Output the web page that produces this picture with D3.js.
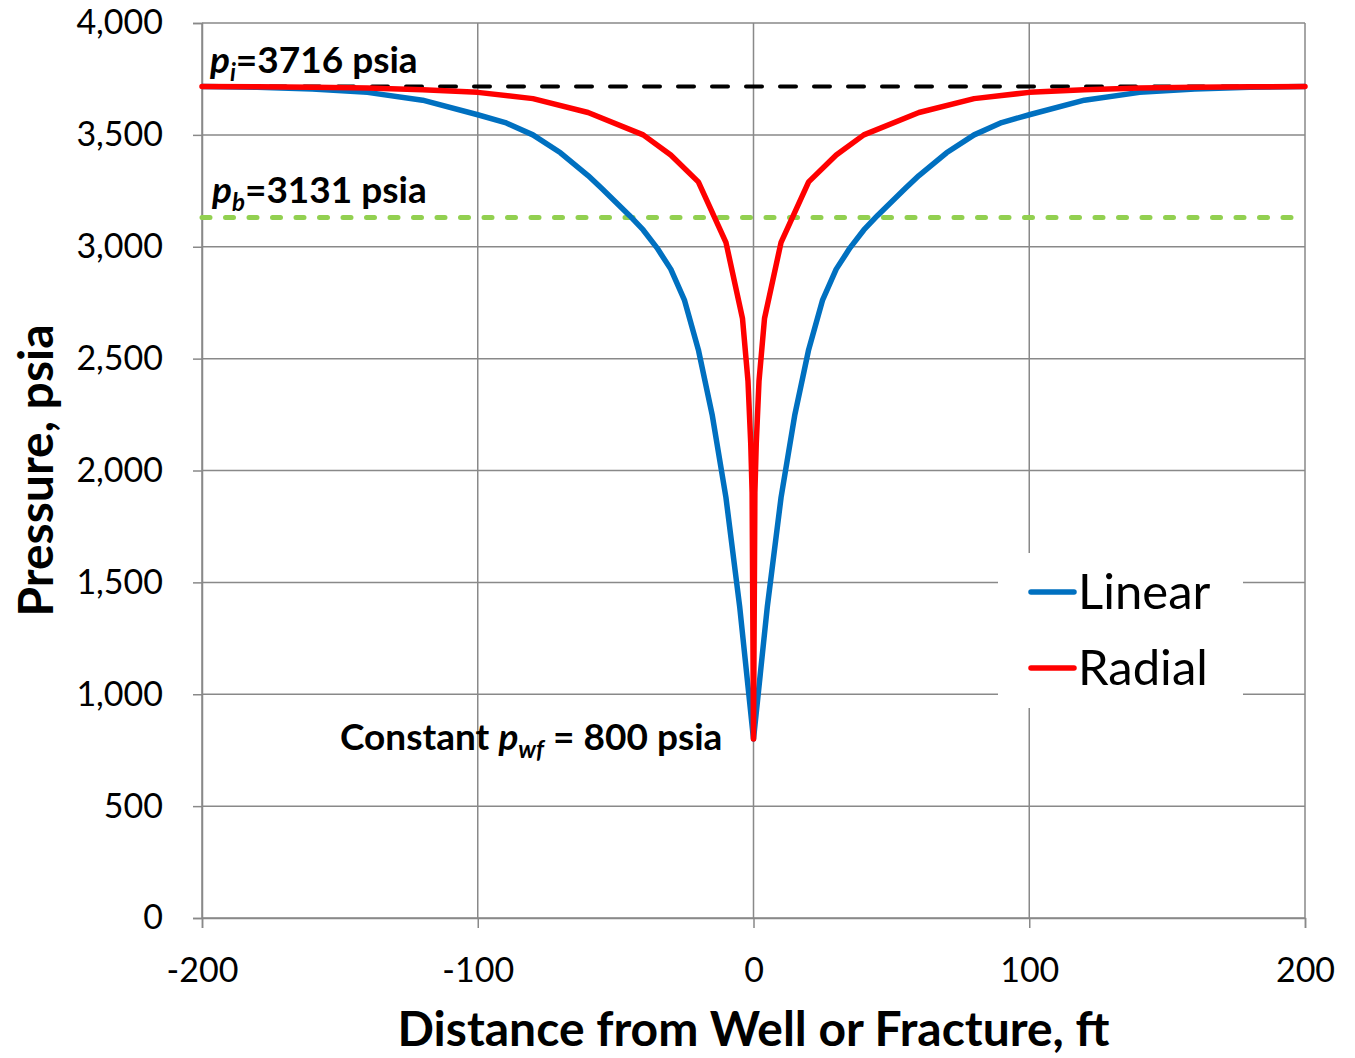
<!DOCTYPE html>
<html>
<head>
<meta charset="utf-8">
<script src="https://cdn.jsdelivr.net/npm/d3@7"></script>
<style>
  html, body { margin: 0; padding: 0; background: #fff; }
  svg { display: block; }
  text { font-family: Lato, "Open Sans", sans-serif; fill: #000; }
</style>
</head>
<body>
<svg id="chart" width="1355" height="1058"></svg>
<script>
// ---- data ----
const xTicks = [-200, -100, 0, 100, 200];
const yTicks = [0, 500, 1000, 1500, 2000, 2500, 3000, 3500, 4000];

const linearX = [-200, -180, -160, -140, -120, -100, -90, -80, -70, -60, -55, -50, -45, -40, -35, -30, -25, -20, -15, -10, -5, 0,
                 5, 10, 15, 20, 25, 30, 35, 40, 45, 50, 55, 60, 70, 80, 90, 100, 120, 140, 160, 180, 200];
const linearP = [3716, 3713, 3705, 3690, 3655, 3590, 3555, 3500, 3420, 3318, 3260, 3200, 3140, 3075, 2995, 2900, 2760, 2540, 2250, 1880, 1390, 800,
                 1390, 1880, 2250, 2540, 2760, 2900, 2995, 3075, 3140, 3200, 3260, 3318, 3420, 3500, 3555, 3590, 3655, 3690, 3705, 3713, 3716];

const radialX = [-200, -180, -160, -140, -120, -100, -80, -60, -40, -30, -20, -10, -4, -2, -1, -0.5, 0,
                 0.5, 1, 2, 4, 10, 20, 30, 40, 60, 80, 100, 120, 140, 160, 180, 200];
const radialP = [3716, 3715, 3713, 3709, 3702, 3690, 3662, 3600, 3500, 3410, 3290, 3020, 2680, 2400, 2120, 1900, 800,
                 1900, 2120, 2400, 2680, 3020, 3290, 3410, 3500, 3600, 3662, 3690, 3702, 3709, 3713, 3715, 3716];

const pInitial = 3716;
const pBubble = 3131;
const pWell = 800;
const seriesNames = ["Linear", "Radial"];

// ---- layout ----
const svg = d3.select("#chart");
const x = d3.scaleLinear().domain([-200, 200]).range([202, 1305]);
const y = d3.scaleLinear().domain([0, 4000]).range([918, 23]);
const gridColor = "#898989";

// gridlines
svg.append("g").selectAll("line").data(yTicks).join("line")
  .attr("x1", x(-200)).attr("x2", x(200))
  .attr("y1", d => y(d)).attr("y2", d => y(d))
  .attr("stroke", gridColor).attr("stroke-width", 1.5);
svg.append("g").selectAll("line").data(xTicks).join("line")
  .attr("x1", d => x(d)).attr("x2", d => x(d))
  .attr("y1", y(4000)).attr("y2", y(0))
  .attr("stroke", gridColor).attr("stroke-width", 1.5);

// axes
const yAxis = d3.axisLeft(y).tickValues(yTicks).tickSize(9).tickPadding(30)
  .tickFormat(d3.format(","));
const gy = svg.append("g").attr("transform", `translate(${x(-200)},0)`).call(yAxis);
gy.select(".domain").attr("stroke", gridColor).attr("stroke-width", 1.5);
gy.selectAll(".tick line").attr("stroke", gridColor).attr("stroke-width", 1.5);
gy.selectAll(".tick text").attr("font-size", 34).attr("font-family", "Lato, sans-serif").attr("fill", "#000");

const xAxis = d3.axisBottom(x).tickValues(xTicks).tickSize(10).tickPadding(30)
  .tickFormat(d => String(d));
const gx = svg.append("g").attr("transform", `translate(0,${y(0)})`).call(xAxis);
gx.select(".domain").attr("stroke", gridColor).attr("stroke-width", 1.5);
gx.selectAll(".tick line").attr("stroke", gridColor).attr("stroke-width", 1.5);
gx.selectAll(".tick text").attr("font-size", 34).attr("font-family", "Lato, sans-serif").attr("fill", "#000");

// axis titles
svg.append("text")
  .attr("x", x(0)).attr("y", 1046)
  .attr("text-anchor", "middle")
  .attr("font-size", 48).attr("font-weight", "bold")
  .text("Distance from Well or Fracture, ft");
svg.append("text")
  .attr("transform", `translate(53,${y(2000)}) rotate(-90)`)
  .attr("text-anchor", "middle")
  .attr("font-size", 48).attr("font-weight", "bold")
  .text("Pressure, psia");

// reference lines
svg.append("line")
  .attr("x1", x(-200)).attr("x2", x(200))
  .attr("y1", y(pInitial)).attr("y2", y(pInitial))
  .attr("stroke", "#000").attr("stroke-width", 4)
  .attr("stroke-dasharray", "16 18").attr("stroke-linecap", "round");
svg.append("line")
  .attr("x1", x(-200)).attr("x2", x(200))
  .attr("y1", y(pBubble)).attr("y2", y(pBubble))
  .attr("stroke", "#92D050").attr("stroke-width", 5)
  .attr("stroke-dasharray", "8 15.5").attr("stroke-linecap", "round");

// series
const line = d3.line().x(d => x(d[0])).y(d => y(d[1]));
const linearData = linearX.map((v, i) => [v, linearP[i]]);
const radialData = radialX.map((v, i) => [v, radialP[i]]);
svg.append("path").datum(linearData)
  .attr("d", line).attr("fill", "none")
  .attr("stroke", "#0070C0").attr("stroke-width", 5.5).attr("stroke-linejoin", "round");
svg.append("path").datum(radialData)
  .attr("d", line).attr("fill", "none")
  .attr("stroke", "#FF0000").attr("stroke-width", 5.5).attr("stroke-linejoin", "round").attr("stroke-linecap", "round");

// annotations
function pLabel(xp, yp, sub, rest, size) {
  const t = svg.append("text").attr("x", xp).attr("y", yp)
    .attr("font-size", size).attr("font-weight", "bold");
  t.append("tspan").attr("font-style", "italic").text("p");
  t.append("tspan").attr("font-style", "italic").attr("font-size", size * 0.65).attr("dy", size * 0.22).text(sub);
  t.append("tspan").attr("dy", -size * 0.22).text(rest);
  return t;
}
pLabel(210, 73, "i", "=3716 psia", 37);
pLabel(212, 203, "b", "=3131 psia", 37);
{
  const size = 37;
  const t = svg.append("text").attr("x", 340).attr("y", 750)
    .attr("font-size", size).attr("font-weight", "bold");
  t.append("tspan").text("Constant ");
  t.append("tspan").attr("font-style", "italic").text("p");
  t.append("tspan").attr("font-style", "italic").attr("font-size", size * 0.65).attr("dy", size * 0.22).text("wf");
  t.append("tspan").attr("dy", -size * 0.22).text(" = " + pWell + " psia");
}

// legend
const lg = svg.append("g");
lg.append("rect").attr("x", 998).attr("y", 553).attr("width", 245).attr("height", 155).attr("fill", "#fff");
const colors = ["#0070C0", "#FF0000"];
seriesNames.forEach((name, i) => {
  const cy = 592 + i * 76;
  lg.append("line").attr("x1", 1031).attr("x2", 1074).attr("y1", cy).attr("y2", cy)
    .attr("stroke", colors[i]).attr("stroke-width", 5.5).attr("stroke-linecap", "round");
  lg.append("text").attr("x", 1078).attr("y", cy + 17).attr("font-size", 49).text(name);
});
</script>
</body>
</html>
